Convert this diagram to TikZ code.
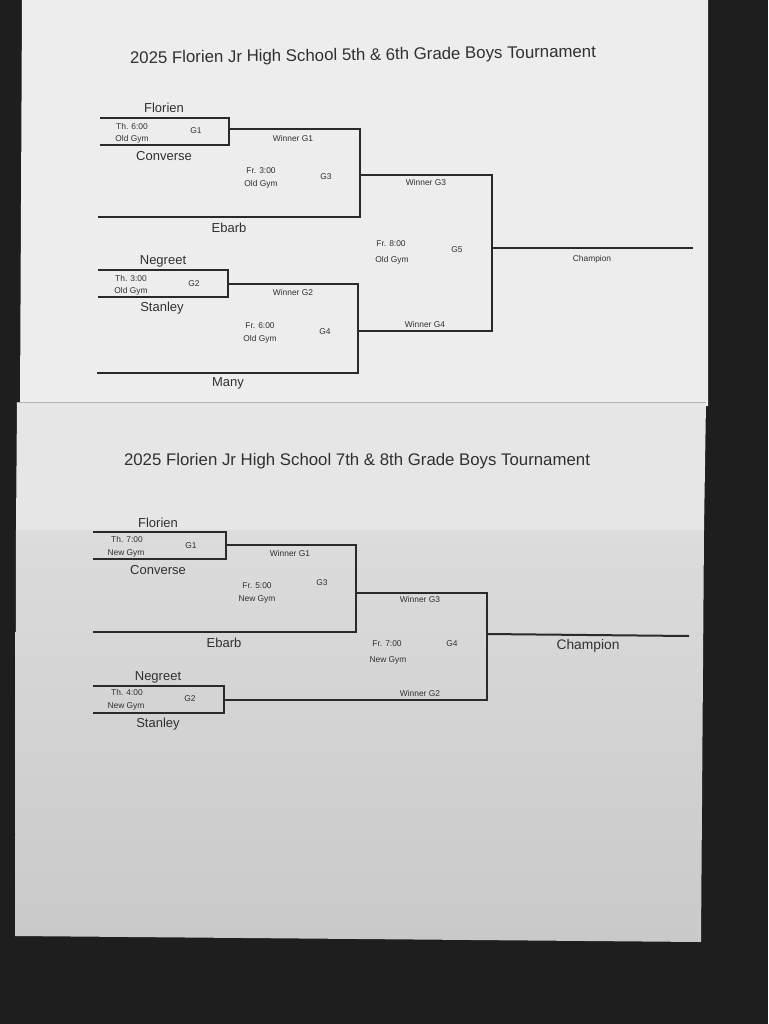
\documentclass[tikz,border=0pt]{standalone}
\usepackage{fontspec}
\setmainfont{Liberation Sans}
\definecolor{bg}{HTML}{1E1E1E}
\definecolor{paperA}{HTML}{EDEDED}
\definecolor{paperB}{HTML}{E6E6E6}
\definecolor{paperC}{HTML}{DCDCDC}
\definecolor{paperD}{HTML}{C9C9C9}
\definecolor{ink}{HTML}{2A2A2A}
\definecolor{txt}{HTML}{303030}
\begin{document}
\begin{tikzpicture}[x=0.5pt,y=-0.5pt,
  brk/.style={draw=ink,line width=1pt,line join=miter},
  team/.style={font=\fontsize{6.5}{7}\selectfont,text=txt,inner sep=0pt},
  small/.style={font=\fontsize{4.2}{5}\selectfont,text=txt,inner sep=0pt},
  ttl/.style={font=\fontsize{8.4}{10}\selectfont,text=txt,inner sep=0pt}]
\useasboundingbox (0,0) rectangle (768,1024);
\fill[bg] (0,0) rectangle (768,1024);
% papers
\fill[paperA] (22,0) -- (708,0) -- (708,406) -- (20,406) -- cycle;
\fill[paperB] (17,402) -- (706,402) -- (704,530) -- (16,530) -- cycle;
\shade[top color=paperC,bottom color=paperD] (16,530) -- (704,530) -- (701,942) -- (15,936) -- cycle;
\draw[gray!60,line width=0.4pt] (17,402) -- (706,402);

% ================= bracket 1 =================
\node[ttl,rotate=0.8] (title1) at (363,56) {2025 Florien Jr High School 5th \& 6th Grade Boys Tournament};
\coordinate (a1tl) at (100,118); \coordinate (a1tr) at (229,118);
\coordinate (a1br) at (229,145); \coordinate (a1bl) at (100,145);
\coordinate (a1m) at (229,129); \coordinate (a3t) at (360,129);
\coordinate (a3b) at (360,217); \coordinate (aebl) at (98,217);
\coordinate (a3m) at (360,175); \coordinate (a5t) at (492,175);
\coordinate (a5b) at (492,331); \coordinate (a4m) at (358,331);
\coordinate (a5m) at (492,248); \coordinate (ach) at (693,248);
\coordinate (a2tl) at (98,270); \coordinate (a2tr) at (228,270);
\coordinate (a2br) at (228,297); \coordinate (a2bl) at (98,297);
\coordinate (a2m) at (228,284); \coordinate (a4t) at (358,284);
\coordinate (a4b) at (358,373); \coordinate (amnl) at (97,373);
\draw[brk] (a1tl) -- (a1tr) -- (a1br) -- (a1bl);
\draw[brk] (a1m) -- (a3t) -- (a3b) -- (aebl);
\draw[brk] (a3m) -- (a5t) -- (a5b) -- (a4m);
\draw[brk] (a5m) -- (ach);
\draw[brk] (a2tl) -- (a2tr) -- (a2br) -- (a2bl);
\draw[brk] (a2m) -- (a4t) -- (a4b) -- (amnl);

\node[team] (aflo) at (164,108) {Florien};
\node[team] (acon) at (164,156) {Converse};
\node[team] (aeba) at (229,228) {Ebarb};
\node[team] (aneg) at (163,261) {Negreet};
\node[team] (asta) at (162,308) {Stanley};
\node[team] (aman) at (228,383) {Many};
\node[small] (ag1t) at (132,126) {Th. 6:00};
\node[small] (ag1p) at (132,139) {Old Gym};
\node[small] (ag1) at (196,131) {G1};
\node[small] (aw1) at (293,138) {Winner G1};
\node[small] (ag3t) at (261,171) {Fr. 3:00};
\node[small] (ag3p) at (261,184) {Old Gym};
\node[small] (ag3) at (326,177) {G3};
\node[small] (ag2t) at (131,278) {Th. 3:00};
\node[small] (ag2p) at (131,291) {Old Gym};
\node[small] (ag2) at (194,284) {G2};
\node[small] (aw2) at (293,292) {Winner G2};
\node[small] (ag4t) at (260,326) {Fr. 6:00};
\node[small] (ag4p) at (260,339) {Old Gym};
\node[small] (ag4) at (325,332) {G4};
\node[small] (aw3) at (426,182) {Winner G3};
\node[small] (aw4) at (425,324) {Winner G4};
\node[small] (ag5t) at (391,244) {Fr. 8:00};
\node[small] (ag5p) at (392,260) {Old Gym};
\node[small] (ag5) at (457,250) {G5};
\node[small] (achamp) at (592,259) {Champion};

% ================= bracket 2 =================
\node[ttl] (title2) at (357,461) {2025 Florien Jr High School 7th \& 8th Grade Boys Tournament};
\coordinate (b1tl) at (93,532); \coordinate (b1tr) at (226,532);
\coordinate (b1br) at (226,559); \coordinate (b1bl) at (93,559);
\coordinate (b1m) at (226,545); \coordinate (b3t) at (356,545);
\coordinate (b3b) at (356,632); \coordinate (bebl) at (93,632);
\coordinate (b3m) at (356,593); \coordinate (b4t) at (487,593);
\coordinate (b4b) at (487,700); \coordinate (b4m) at (487,634);
\coordinate (bch) at (689,636);
\coordinate (b2tl) at (93,686); \coordinate (b2tr) at (224,686);
\coordinate (b2br) at (224,713); \coordinate (b2bl) at (93,713);
\coordinate (b2m) at (224,700);
\draw[brk] (b1tl) -- (b1tr) -- (b1br) -- (b1bl);
\draw[brk] (b1m) -- (b3t) -- (b3b) -- (bebl);
\draw[brk] (b3m) -- (b4t) -- (b4b) -- (b2m);
\draw[brk] (b4m) -- (bch);
\draw[brk] (b2tl) -- (b2tr) -- (b2br) -- (b2bl);

\node[team] (bflo) at (158,523) {Florien};
\node[team] (bcon) at (158,570) {Converse};
\node[team] (beba) at (224,643) {Ebarb};
\node[team] (bneg) at (158,677) {Negreet};
\node[team] (bsta) at (158,724) {Stanley};
\node[small] (bg1t) at (127,539) {Th. 7:00};
\node[small] (bg1p) at (126,553) {New Gym};
\node[small] (bg1) at (191,546) {G1};
\node[small] (bw1) at (290,553) {Winner G1};
\node[small] (bg3t) at (257,586) {Fr. 5:00};
\node[small] (bg3p) at (257,599) {New Gym};
\node[small] (bg3) at (322,583) {G3};
\node[small] (bw3) at (420,599) {Winner G3};
\node[small] (bg4t) at (387,644) {Fr. 7:00};
\node[small] (bg4p) at (388,660) {New Gym};
\node[small] (bg4) at (452,644) {G4};
\node[small] (bg2t) at (127,692) {Th. 4:00};
\node[small] (bg2p) at (126,706) {New Gym};
\node[small] (bg2) at (190,699) {G2};
\node[small] (bw2) at (420,693) {Winner G2};
\node[team,font=\fontsize{6.9}{8}\selectfont] (bchamp) at (588,646) {Champion};
\end{tikzpicture}
\end{document}
